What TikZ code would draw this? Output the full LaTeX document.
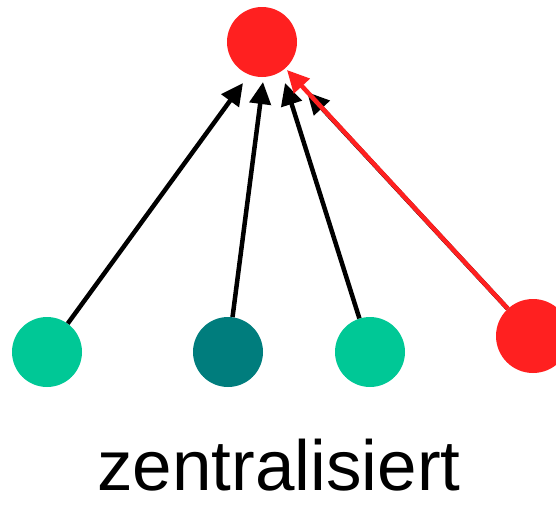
\documentclass[tikz,border=0pt]{standalone}
\usepackage{fontspec}
\setmainfont{Liberation Sans}
\usetikzlibrary{arrows.meta}
\definecolor{cgreen}{RGB}{0,200,150}
\definecolor{cteal}{RGB}{0,125,125}
\definecolor{cred}{RGB}{255,32,32}
\tikzset{
  dot/.style={circle,inner sep=0pt,minimum size=70pt,draw=none},
  conn/.style={line width=4.5pt,-{Triangle[length=22pt,width=21pt]}},
}
\begin{document}
\begin{tikzpicture}[x=1pt,y=-1pt]
\useasboundingbox (0,0) rectangle (556,504);
\node[dot,fill=cred] (top) at (262,42) {};
\node[dot,fill=cgreen] (b1) at (47,352) {};
\node[dot,fill=cteal] (b2) at (228,352) {};
\node[dot,fill=cgreen] (b3) at (370,352) {};
\node[dot,fill=cred,minimum size=74pt] (b4) at (533,336) {};
\coordinate (t1) at (243,83);
\coordinate (t2) at (263,82);
\coordinate (t3) at (285,83);
\coordinate (t4) at (287,70);
\coordinate (t4b) at (307,92);
\draw[conn,black] (b1) -- (t1);
\draw[conn,black] (b2) -- (t2);
\draw[conn,black] (b3) -- (t3);
\draw[conn,black] (b4) -- (t4b);
\draw[conn,cred] (b4) -- (t4);
\node[anchor=base,inner sep=0pt,font=\fontsize{71}{73}\selectfont] (lbl) at (279,490) {zentralisiert};
\end{tikzpicture}
\end{document}
